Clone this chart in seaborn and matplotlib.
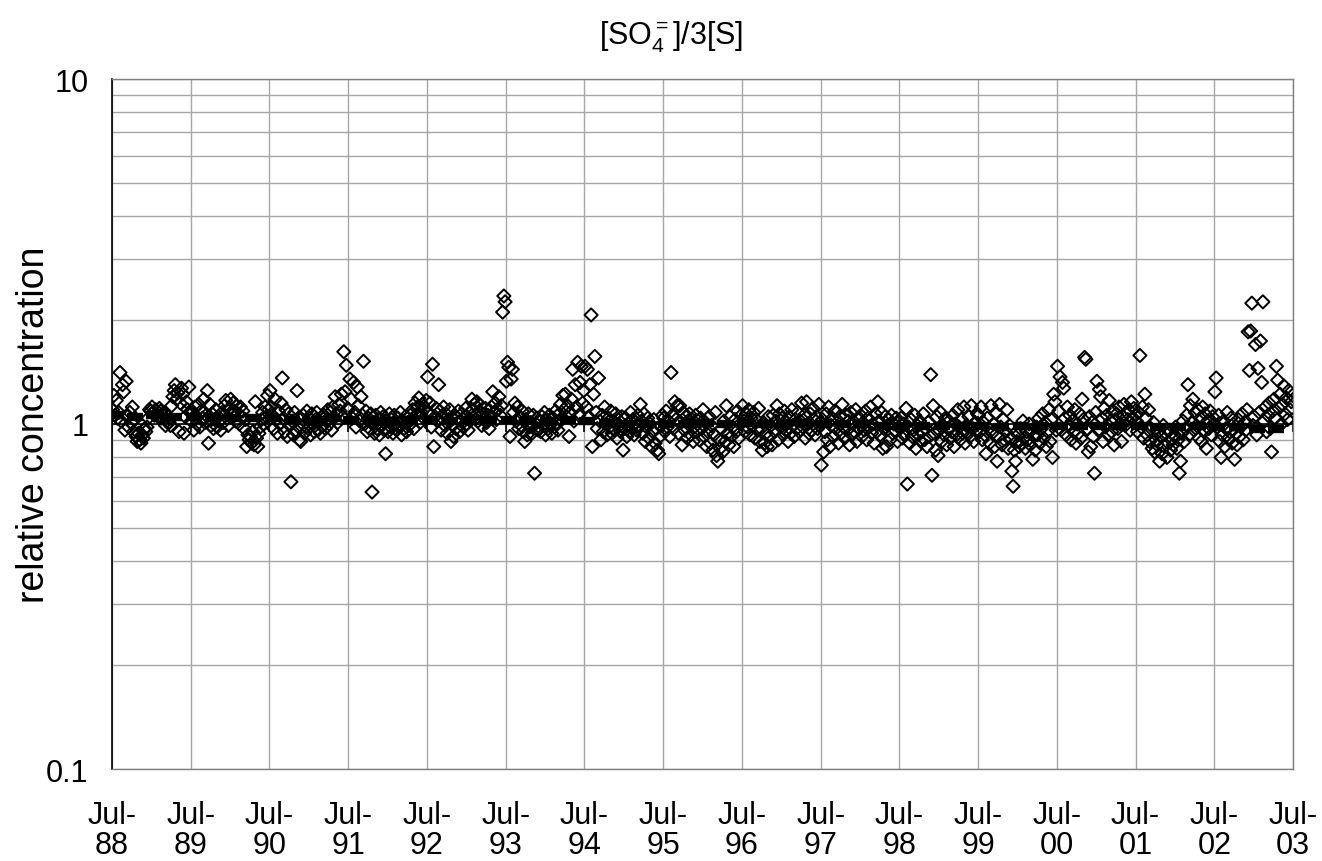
import numpy as np
import pandas as pd
import matplotlib
matplotlib.use("Agg")
import matplotlib.pyplot as plt
import seaborn as sns

# ---------------- data ----------------
title = r"[SO$_{\mathregular{4}}^{\mathregular{=}}$]/3[S]"
ylabel = "relative concentration"
year_starts = list(range(1988, 2003))          # sampling years Jul-YY .. Jul-YY+1
xtick_labels = ["Jul-\n88", "Jul-\n89", "Jul-\n90", "Jul-\n91", "Jul-\n92", "Jul-\n93",
                "Jul-\n94", "Jul-\n95", "Jul-\n96", "Jul-\n97", "Jul-\n98", "Jul-\n99",
                "Jul-\n00", "Jul-\n01", "Jul-\n02", "Jul-\n03"]
ytick_values = [0.1, 1, 10]
ytick_labels = ["0.1", "1", "10"]

y88 = [1.10, 1.21, 1.06, 1.17, 1.04, 1.08, 1.41, 1.02, 1.30, 1.24, 0.96, 1.33, 1.05, 0.98, 1.08, 1.01,
       1.12, 0.95, 1.03, 0.92, 0.89, 0.94, 0.90, 0.88, 0.93, 0.91, 0.97, 0.95, 0.98, 1.04, 1.10, 1.09,
       1.12, 1.08, 1.06, 1.10, 1.07, 1.05, 1.11, 1.09, 1.04, 1.06, 1.08, 0.99, 1.02, 1.05, 1.01, 0.99,
       1.13, 1.20, 1.25, 1.30, 1.18, 1.23, 0.95, 1.15, 1.27, 1.22, 0.94, 1.05, 1.16, 1.10, 1.28, 1.08]
y89 = [1.02, 1.08, 0.96, 1.12, 1.05, 1.00, 1.14, 0.98, 1.09, 1.04, 1.18, 1.01, 1.06, 1.25, 0.88, 1.14,
       0.99, 1.07, 0.97, 1.03, 1.10, 0.98, 1.05, 1.02, 0.96, 1.08, 1.01, 1.13, 1.17, 1.04, 0.99, 1.11,
       1.18, 1.06, 1.15, 1.09, 1.02, 1.13, 1.07, 1.00, 1.12, 1.05, 1.09, 0.97, 1.03, 0.86, 0.93, 0.90,
       0.92, 0.88, 0.95, 0.87, 1.16, 0.91, 0.86, 0.94, 0.98, 1.03, 1.08, 1.00, 1.12, 1.05, 1.21, 1.10]
y90 = [1.25, 1.12, 1.06, 0.97, 1.18, 1.03, 0.94, 1.09, 1.00, 1.15, 1.36, 1.04, 0.95, 1.10, 0.92, 1.07,
       0.99, 0.68, 1.02, 0.93, 1.08, 0.96, 1.25, 1.04, 0.90, 0.89, 0.98, 1.06, 0.94, 1.01, 1.09, 0.97,
       1.04, 0.93, 1.07, 1.00, 0.95, 1.03, 1.08, 0.96, 1.02, 0.94, 1.05, 0.99, 1.06, 0.97, 1.03, 1.10,
       1.00, 1.08, 0.96, 1.12, 1.04, 1.20, 1.07, 1.01, 1.14, 1.09, 1.22, 1.05, 1.62, 1.24, 1.48, 1.11]
y91 = [1.10, 1.35, 1.18, 1.04, 1.32, 1.08, 0.98, 1.28, 1.13, 1.02, 1.20, 1.06, 1.52, 1.00, 1.09, 0.95,
       1.04, 0.97, 1.07, 0.635, 1.01, 0.94, 1.06, 0.97, 1.03, 0.93, 1.08, 0.99, 1.05, 0.96, 0.82, 1.02,
       0.95, 1.07, 0.98, 1.03, 0.94, 1.06, 1.00, 0.96, 1.04, 0.98, 1.08, 0.93, 1.02, 0.97, 1.05, 0.95,
       1.01, 0.99, 1.06, 1.03, 1.10, 0.97, 1.15, 1.06, 1.12, 1.19, 1.01, 1.08, 1.14, 1.04, 1.11, 1.17]
y92 = [1.37, 1.08, 1.15, 0.98, 1.49, 0.86, 1.05, 1.11, 1.02, 1.30, 1.09, 0.96, 1.04, 1.12, 0.99, 1.07,
       0.94, 1.03, 1.10, 0.89, 1.00, 0.92, 1.06, 0.97, 1.04, 1.09, 0.95, 1.02, 1.07, 0.98, 1.05, 1.11,
       1.00, 0.96, 1.08, 1.03, 1.18, 1.10, 1.14, 1.06, 1.16, 1.02, 1.09, 1.13, 0.99, 1.07, 1.04, 1.11,
       1.01, 1.06, 0.97, 1.05, 1.12, 1.24, 1.08, 1.15, 1.03, 1.10, 1.20, 1.06, 1.13, 2.11, 2.35, 2.26]
y93 = [1.33, 1.51, 1.46, 0.92, 1.35, 1.44, 1.08, 1.15, 1.02, 1.12, 0.97, 1.05, 0.99, 1.09, 0.95, 0.89,
       1.03, 0.93, 1.07, 0.98, 1.01, 0.94, 1.06, 0.72, 0.97, 1.04, 0.96, 1.02, 0.95, 1.05, 0.99, 1.08,
       0.93, 1.03, 0.97, 1.06, 1.00, 0.94, 1.04, 0.98, 1.09, 1.01, 0.96, 1.07, 1.14, 1.03, 1.21, 1.10,
       1.22, 1.05, 1.13, 0.92, 1.08, 1.18, 1.44, 1.02, 1.30, 1.12, 1.51, 1.06, 1.32, 1.47, 1.15, 1.25]
y94 = [1.47, 1.12, 1.44, 1.05, 1.30, 2.07, 0.86, 1.22, 1.57, 1.08, 0.97, 1.36, 1.02, 0.90, 1.06, 0.95,
       1.12, 1.00, 0.93, 1.04, 0.98, 1.09, 0.94, 1.02, 0.96, 1.07, 0.91, 1.03, 0.99, 0.95, 1.05, 0.84,
       0.97, 1.04, 0.92, 1.00, 0.95, 1.08, 0.98, 1.03, 0.93, 1.01, 0.96, 1.06, 0.99, 1.14, 1.02, 0.94,
       1.07, 0.89, 0.98, 1.04, 0.91, 1.00, 0.86, 0.95, 1.03, 0.88, 0.97, 0.84, 0.82, 0.92, 0.99, 1.06]
y95 = [1.04, 0.95, 1.09, 0.98, 1.02, 0.92, 1.41, 1.06, 0.97, 1.16, 1.03, 1.13, 0.94, 1.13, 1.01, 0.87,
       1.08, 0.96, 1.05, 0.91, 1.00, 1.07, 0.93, 1.03, 0.89, 0.98, 1.06, 0.95, 1.02, 0.90, 1.04, 0.97,
       1.10, 0.92, 1.01, 0.86, 0.95, 1.05, 0.88, 0.99, 0.84, 0.93, 1.08, 0.81, 0.78, 0.90, 0.85, 0.97,
       0.83, 1.02, 0.89, 1.13, 0.94, 0.87, 1.05, 0.92, 0.98, 0.86, 1.03, 0.95, 1.09, 0.91, 1.00, 1.06]
y96 = [1.13, 1.02, 0.95, 1.07, 0.98, 1.10, 0.93, 1.04, 0.99, 1.08, 0.91, 1.03, 0.96, 1.11, 0.89, 0.97,
       0.84, 1.01, 0.88, 0.94, 0.86, 1.05, 0.92, 0.99, 0.87, 1.06, 0.95, 1.02, 1.13, 0.90, 1.07, 0.98,
       1.04, 0.93, 1.09, 0.96, 1.01, 0.89, 1.05, 0.94, 1.10, 0.99, 0.92, 1.03, 0.97, 1.08, 0.95, 1.02,
       1.15, 0.98, 1.06, 0.91, 1.16, 1.00, 0.94, 1.07, 0.96, 1.11, 1.03, 0.93, 1.05, 0.97, 1.14, 1.01]
y97 = [0.76, 1.03, 0.83, 0.95, 1.07, 0.90, 1.12, 0.86, 0.99, 1.04, 0.92, 1.09, 0.97, 1.01, 0.88, 1.05,
       0.94, 1.14, 0.98, 0.91, 1.06, 0.96, 1.02, 0.87, 1.08, 0.93, 1.00, 0.95, 1.10, 0.89, 1.03, 0.97,
       1.06, 0.92, 1.01, 0.96, 1.09, 0.90, 1.04, 0.98, 1.12, 0.94, 1.00, 0.88, 1.07, 0.95, 1.16, 1.02,
       0.93, 1.08, 0.85, 0.97, 1.05, 0.86, 0.99, 1.03, 0.90, 1.06, 0.94, 1.00, 0.96, 1.04, 0.89, 1.01]
y98 = [0.97, 1.04, 0.91, 1.00, 0.94, 1.11, 0.67, 0.98, 0.88, 1.03, 0.92, 0.96, 1.06, 0.85, 0.99, 0.93,
       1.02, 0.89, 0.95, 1.07, 0.90, 0.97, 0.86, 1.01, 0.92, 1.39, 0.71, 1.13, 0.94, 0.84, 1.05, 0.81,
       0.96, 1.08, 0.89, 0.99, 0.93, 1.04, 0.87, 0.97, 1.02, 0.91, 0.95, 1.06, 0.86, 1.00, 0.93, 1.10,
       0.98, 0.90, 1.03, 0.94, 1.12, 0.88, 0.99, 0.95, 1.05, 0.92, 1.13, 0.97, 0.89, 1.01, 0.96, 1.07]
y99 = [1.06, 0.95, 1.12, 0.90, 1.01, 0.93, 0.82, 1.04, 0.97, 0.88, 1.13, 0.94, 1.00, 0.86, 1.08, 0.78,
       0.92, 1.14, 0.98, 0.87, 1.03, 0.90, 0.95, 1.10, 0.85, 0.99, 0.91, 0.73, 0.66, 0.84, 0.78, 0.89,
       0.93, 0.86, 0.97, 0.88, 1.02, 0.91, 0.85, 0.95, 0.90, 1.00, 0.87, 0.96, 0.79, 0.92, 0.84, 0.98,
       0.93, 1.04, 0.88, 0.97, 1.07, 0.91, 1.01, 0.86, 0.95, 1.10, 0.89, 1.03, 0.80, 1.22, 1.16, 0.96]
y00 = [1.47, 1.09, 1.37, 0.96, 1.32, 1.27, 1.04, 0.93, 1.12, 0.99, 1.06, 0.90, 1.02, 0.95, 1.10, 0.88,
       1.00, 0.94, 1.07, 0.91, 1.18, 1.03, 1.56, 1.54, 0.97, 0.83, 1.05, 0.86, 1.01, 0.92, 0.72, 1.08,
       1.33, 0.96, 1.26, 1.20, 1.04, 0.89, 1.11, 0.98, 1.06, 0.93, 1.17, 1.02, 0.95, 1.09, 0.87, 1.03,
       1.07, 0.97, 1.12, 1.00, 0.89, 1.05, 1.14, 0.99, 1.08, 1.03, 1.10, 0.96, 1.16, 1.04, 1.11, 1.06]
y01 = [1.02, 0.95, 1.08, 1.58, 0.98, 1.12, 0.91, 1.22, 1.04, 0.93, 1.10, 0.89, 0.97, 0.85, 1.01, 0.83,
       0.90, 0.87, 0.95, 0.78, 0.92, 0.82, 0.99, 0.86, 0.94, 0.80, 0.88, 0.96, 0.84, 0.91, 0.87, 0.93,
       0.98, 0.85, 0.90, 0.72, 0.78, 0.94, 1.02, 0.89, 0.97, 1.06, 1.30, 0.93, 1.13, 1.01, 1.18, 0.96,
       1.08, 0.99, 1.10, 0.91, 1.04, 0.89, 1.12, 0.95, 1.07, 0.85, 1.02, 0.97, 1.09, 0.93, 1.05, 1.00]
y02 = [1.24, 1.36, 0.98, 1.06, 0.89, 0.80, 0.93, 1.02, 0.86, 0.97, 1.08, 0.91, 0.95, 1.04, 0.88, 1.00,
       0.79, 0.94, 0.87, 1.03, 0.92, 0.98, 1.07, 0.90, 1.01, 0.96, 1.10, 1.85, 1.43, 1.86, 2.24, 0.99,
       1.05, 1.70, 0.93, 1.45, 1.08, 1.74, 1.32, 2.26, 1.02, 1.12, 0.95, 1.06, 1.15, 0.97, 0.83, 1.09,
       1.18, 1.04, 1.47, 1.34, 1.11, 1.22, 1.00, 1.14, 1.29, 1.07, 1.19, 1.03, 1.25, 1.10, 1.16, 1.21]
yearly_values = [y88, y89, y90, y91, y92, y93, y94, y95, y96, y97, y98, y99, y00, y01, y02]

# seasonal (quarterly) means, Jul-88 .. Apr-03
season_means = [1.06, 1.05, 1.06, 1.05, 1.05, 1.05, 1.04, 1.04, 1.04, 1.03, 1.02, 1.04,
                1.03, 1.02, 1.02, 1.03, 1.03, 1.02, 1.03, 1.03, 1.03, 1.02, 1.02, 1.03,
                1.02, 1.01, 1.00, 1.00, 1.00, 1.00, 1.01, 1.00, 1.01, 1.00, 1.00, 1.01,
                1.00, 1.00, 1.00, 0.99, 0.99, 0.99, 0.99, 0.99, 0.99, 0.98, 0.99, 0.99,
                0.99, 0.99, 0.99, 0.99, 0.99, 0.98, 0.98, 0.99, 0.98, 0.98, 0.97, 0.97]

# ---------------- build tables ----------------
rows = []
for y0, vals in zip(year_starts, yearly_values):
    start = pd.Timestamp(f"{y0}-07-01")
    n = len(vals)
    for i, v in enumerate(vals):
        rows.append((start + pd.Timedelta(days=(i + 0.5) * 365.25 / n), v))
df = pd.DataFrame(rows, columns=["date", "ratio"])

q0 = pd.Timestamp("1988-07-01")
season_dates = [q0 + pd.Timedelta(days=i * 365.25 / 4 + 14) for i in range(len(season_means))]
dfm = pd.DataFrame({"date": season_dates, "mean": season_means})

tick_dates = [pd.Timestamp(f"{1988 + k}-07-01") for k in range(len(xtick_labels))]

# ---------------- style ----------------
sns.set_style("white")
plt.rcParams["font.family"] = ["Liberation Sans", "DejaVu Sans"]
plt.rcParams["mathtext.fontset"] = "custom"
plt.rcParams["mathtext.rm"] = "Liberation Sans"
plt.rcParams["mathtext.it"] = "Liberation Sans:italic"
for key in ["text.color", "axes.labelcolor", "xtick.color", "ytick.color"]:
    plt.rcParams[key] = "black"

fig = plt.figure(figsize=(13.22, 8.62), dpi=100)
ax = fig.add_axes([112 / 1322, 1 - 770 / 862, (1293 - 112) / 1322, (770 - 80) / 862])

grid_c = "#a6a6a6"
ax.set_yscale("log")
ax.set_ylim(0.1, 10)
ax.set_xlim(tick_dates[0], tick_dates[-1])

ax.set_yticks(ytick_values)
ax.set_yticklabels(ytick_labels)
ax.yaxis.set_minor_locator(matplotlib.ticker.LogLocator(base=10, subs=np.arange(2, 10)))
ax.yaxis.set_minor_formatter(matplotlib.ticker.NullFormatter())
ax.set_xticks(tick_dates)
ax.set_xticklabels(xtick_labels, linespacing=1.0)

ax.grid(True, which="both", axis="y", color=grid_c, lw=1.0, zorder=0)
ax.grid(True, which="major", axis="x", color=grid_c, lw=1.0, zorder=0)
ax.set_axisbelow(True)

ax.tick_params(axis="y", which="major", length=9, width=1, color="black", labelsize=22, pad=8)
ax.tick_params(axis="y", which="minor", length=0)
ax.tick_params(axis="x", which="major", length=0, labelsize=22, pad=22)

for s in ["top", "right", "bottom"]:
    ax.spines[s].set_color("#808080")
    ax.spines[s].set_linewidth(1.0)
ax.spines["left"].set_color("black")
ax.spines["left"].set_linewidth(1.2)

# category axis crossing at 1
ax.axhline(1.0, color="black", lw=1.2, zorder=1.5)
ax.plot(tick_dates, [1.0] * len(tick_dates), ls="none", marker="|", ms=12, mew=1.2,
        color="black", zorder=1.5)

# scatter of individual samples
sns.scatterplot(data=df, x="date", y="ratio", ax=ax, marker="D", s=45,
                color="black", linewidth=1.4, zorder=3, legend=False)
for coll in ax.collections:
    coll.set_facecolor("none")
    coll.set_edgecolor("black")

# seasonal means as thick dashes
ax.plot(dfm["date"], dfm["mean"], ls="none", marker="_", ms=11.5, mew=6,
        color="black", zorder=4)

ax.set_xlabel("")
ax.set_ylabel(ylabel, fontsize=27)
ax.yaxis.set_label_coords(-0.051, 0.5)
fig.text(0.508, 0.977, title, ha="center", va="top", fontsize=22)

fig.savefig("out.png", dpi=100)
